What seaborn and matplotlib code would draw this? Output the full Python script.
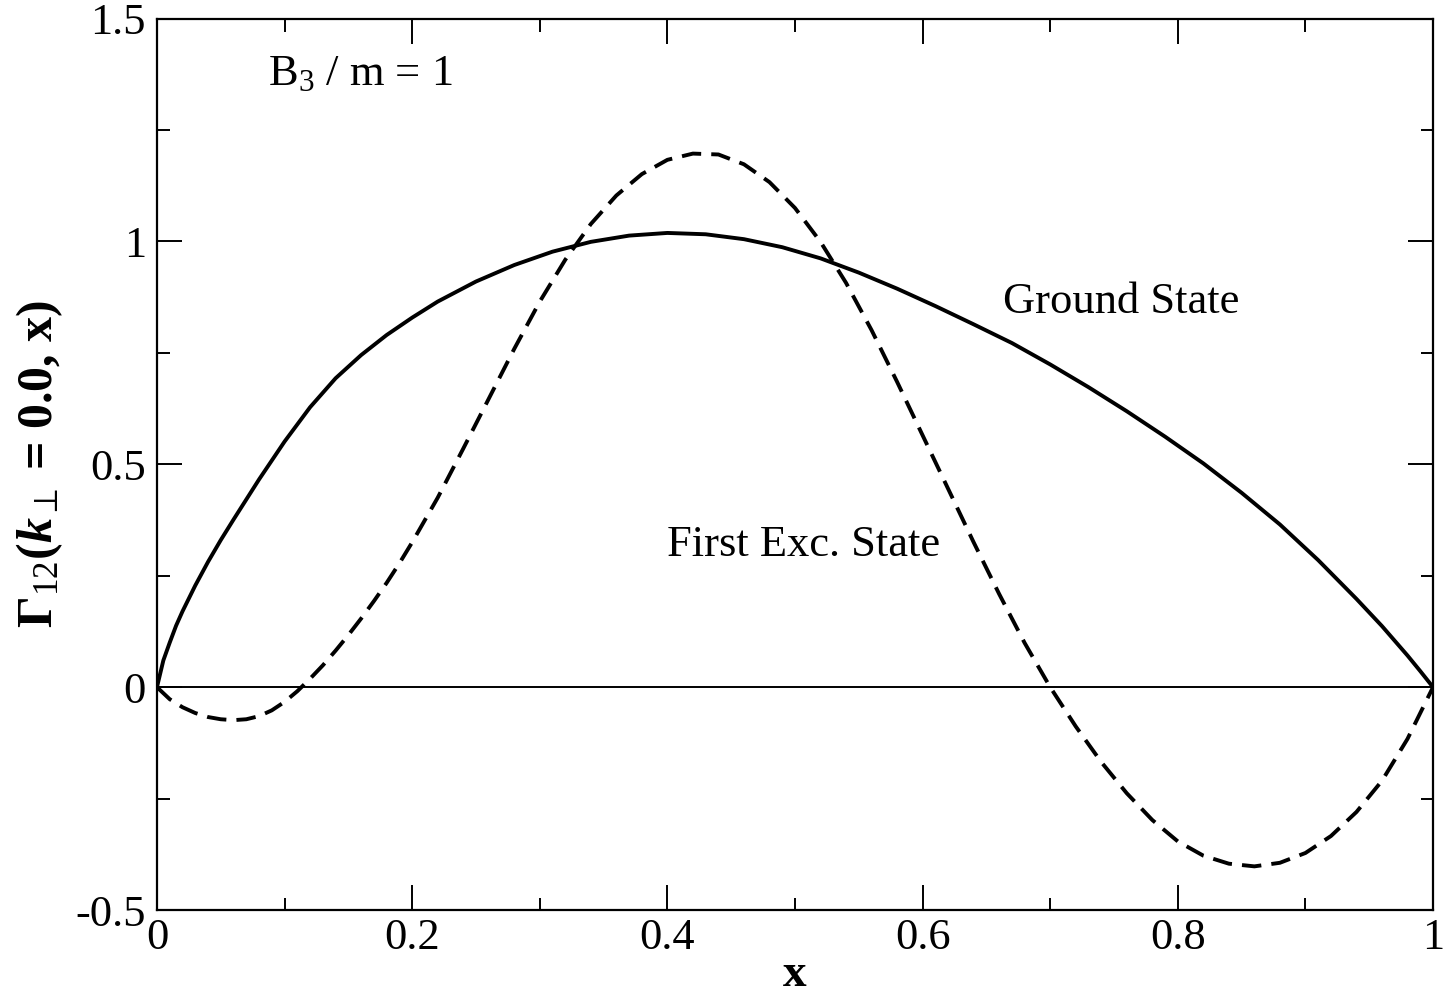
import numpy as np
import pandas as pd
import matplotlib
matplotlib.use("Agg")
import matplotlib.pyplot as plt
import seaborn as sns

# Ground state curve
ground_x = [0, 0.005, 0.01, 0.015, 0.02, 0.03, 0.04, 0.05, 0.06, 0.08, 0.10, 0.12, 0.14,
            0.16, 0.18, 0.20, 0.22, 0.25, 0.28, 0.31, 0.34, 0.37, 0.40, 0.43, 0.46,
            0.49, 0.52, 0.55, 0.58, 0.61, 0.64, 0.67, 0.70, 0.73, 0.76, 0.79, 0.82,
            0.85, 0.88, 0.91, 0.94, 0.96, 0.98, 0.99, 1.0]
ground_y = [0, 0.06, 0.10, 0.138, 0.17, 0.228, 0.281, 0.330, 0.376, 0.466, 0.551, 0.628, 0.693,
            0.745, 0.79, 0.829, 0.865, 0.910, 0.947, 0.977, 0.999, 1.013, 1.019, 1.016, 1.005,
            0.987, 0.962, 0.930, 0.894, 0.855, 0.814, 0.772, 0.724, 0.673, 0.619, 0.562, 0.502,
            0.436, 0.365, 0.285, 0.198, 0.137, 0.071, 0.036, 0]

# First excited state curve
exc_x = [0, 0.01, 0.02, 0.03, 0.04, 0.05, 0.06, 0.07, 0.08, 0.09, 0.10, 0.11, 0.12,
         0.13, 0.14, 0.15, 0.16, 0.17, 0.18, 0.19, 0.20, 0.22, 0.24, 0.26, 0.28, 0.30,
         0.32, 0.34, 0.36, 0.38, 0.40, 0.42, 0.44, 0.46, 0.48, 0.50, 0.52, 0.54, 0.56,
         0.58, 0.60, 0.62, 0.64, 0.66, 0.68, 0.70, 0.72, 0.74, 0.76, 0.78, 0.80, 0.82,
         0.84, 0.86, 0.88, 0.90, 0.92, 0.94, 0.96, 0.98, 0.99, 1.0]
exc_y = [0, -0.027, -0.045, -0.058, -0.067, -0.072, -0.074, -0.072, -0.065, -0.052,
         -0.033, -0.009, 0.019, 0.049, 0.082, 0.117, 0.154, 0.193, 0.234, 0.278, 0.325,
         0.425, 0.535, 0.647, 0.759, 0.865, 0.959, 1.039, 1.103, 1.151, 1.183, 1.197, 1.195,
         1.173, 1.133, 1.075, 0.999, 0.907, 0.801, 0.685, 0.565, 0.445, 0.325, 0.209, 0.099,
         0.0, -0.088, -0.168, -0.238, -0.298, -0.346, -0.378, -0.396, -0.402, -0.394,
         -0.372, -0.334, -0.280, -0.210, -0.116, -0.058, 0]

xticks = [0, 0.2, 0.4, 0.6, 0.8, 1.0]
xtick_labels = ["0", "0.2", "0.4", "0.6", "0.8", "1"]
yticks = [-0.5, 0, 0.5, 1.0, 1.5]
ytick_labels = ["-0.5", "0", "0.5", "1", "1.5"]

sns.set_theme(style="ticks")
plt.rcParams['font.family'] = ['Liberation Serif', 'DejaVu Serif']
plt.rcParams['text.color'] = 'black'
plt.rcParams['axes.labelcolor'] = 'black'
plt.rcParams['mathtext.fontset'] = 'custom'
plt.rcParams['mathtext.rm'] = 'Liberation Serif'
plt.rcParams['mathtext.it'] = 'Liberation Serif:italic'
plt.rcParams['mathtext.bf'] = 'Liberation Serif:bold'
plt.rcParams['mathtext.bfit'] = 'Liberation Serif:italic:bold'
plt.rcParams['mathtext.fallback'] = 'stix'
plt.rcParams['axes.unicode_minus'] = False

ground = pd.DataFrame({'x': ground_x, 'y': ground_y})
excited = pd.DataFrame({'x': exc_x, 'y': exc_y})

fig = plt.figure(figsize=(14.44, 9.96), dpi=100)
ax = fig.add_axes([0.1087, 0.0863, 0.8837, 0.8951])

ax.axhline(0, color='black', linewidth=1.4, zorder=1)
sns.lineplot(data=ground, x='x', y='y', ax=ax, color='black', linewidth=2.8,
             estimator=None, sort=False)
sns.lineplot(data=excited, x='x', y='y', ax=ax, color='black', linewidth=2.8,
             estimator=None, sort=False, linestyle=(0, (5, 2.6)))

ax.set_xlim(0, 1)
ax.set_ylim(-0.5, 1.5)
ax.set_xticks(xticks)
ax.set_xticklabels(xtick_labels)
ax.set_yticks(yticks)
ax.set_yticklabels(ytick_labels)
ax.set_xticks(np.arange(0.1, 1.0, 0.2), minor=True)
ax.set_yticks([-0.25, 0.25, 0.75, 1.25], minor=True)
ax.tick_params(which='both', direction='in', top=True, right=True, width=1.4,
               labelsize=32, colors='black')
ax.tick_params(which='major', length=18)
ax.tick_params(which='minor', length=9)
ax.tick_params(axis='x', pad=6)
ax.tick_params(axis='y', pad=8)
for sp in ax.spines.values():
    sp.set_linewidth(1.6)
    sp.set_color('black')

ax.set_xlabel('x', fontsize=34, fontweight='bold', labelpad=-3)
ax.set_ylabel(r'Γ$_{12}$($\mathbfit{k}_{\perp}$ = 0.0, x)', fontsize=36, fontweight='bold')
ax.yaxis.set_label_coords(-0.072, 0.5)

ax.text(0.087, 1.375, r'B$_3$ / m = 1', fontsize=32, va='center', ha='left')
ax.text(0.663, 0.863, 'Ground State', fontsize=32, va='center', ha='left')
ax.text(0.400, 0.319, 'First Exc. State', fontsize=32, va='center', ha='left')

fig.savefig('out.png', dpi=100)
